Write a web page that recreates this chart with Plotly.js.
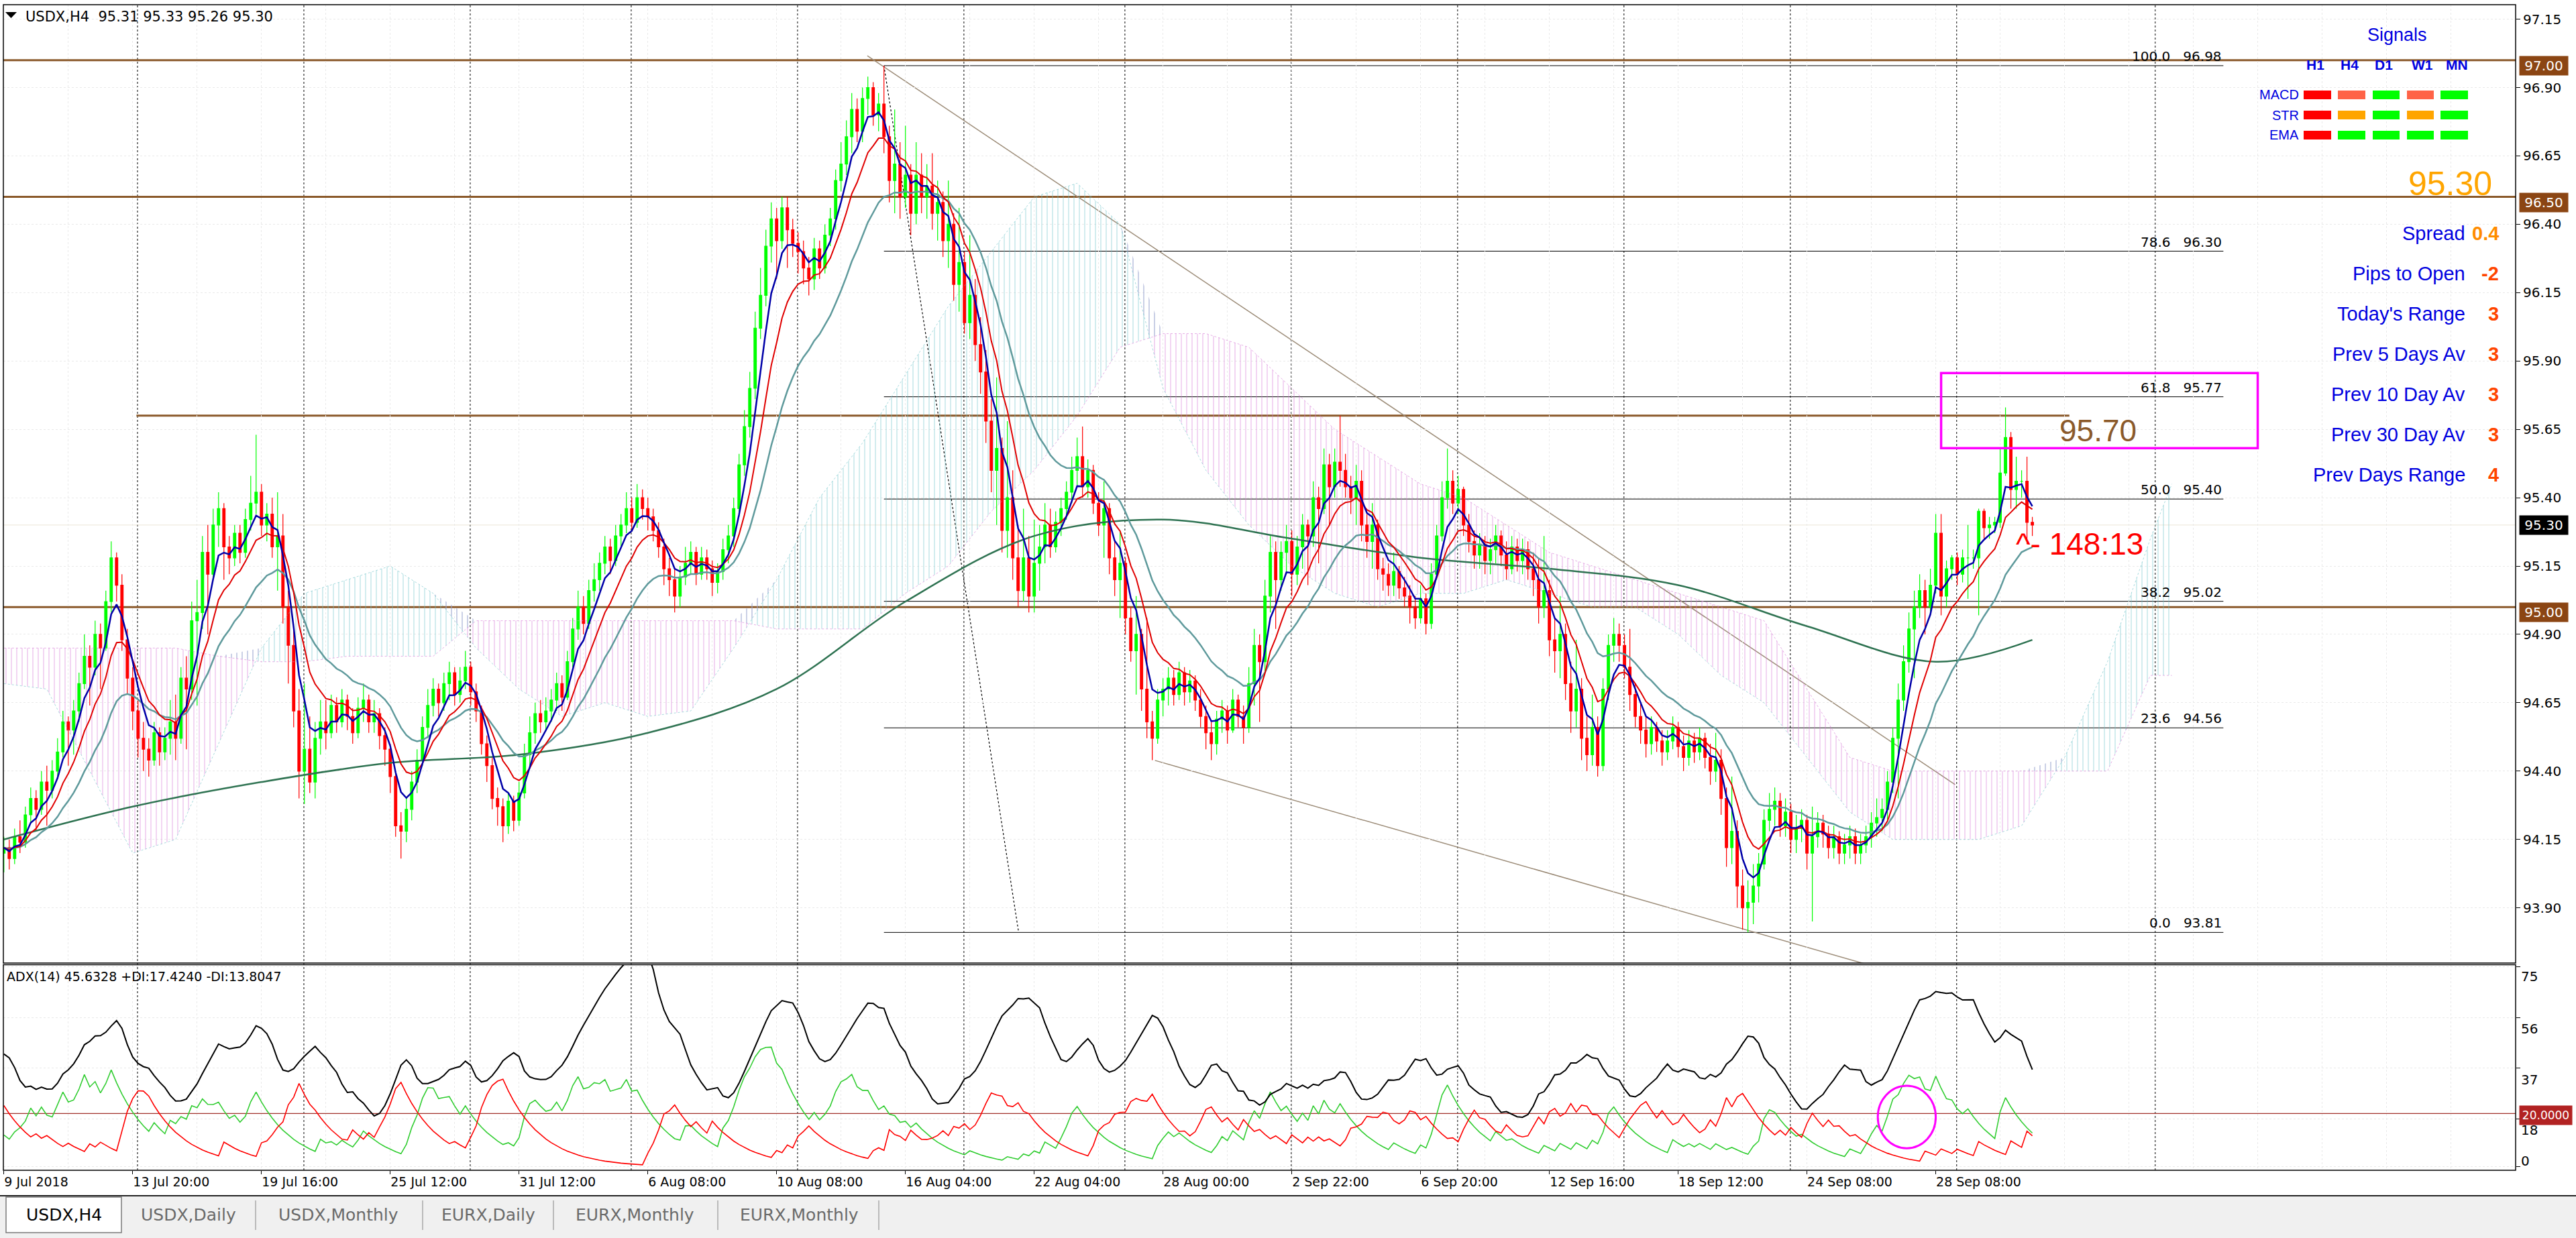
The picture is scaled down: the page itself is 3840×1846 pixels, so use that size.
<!DOCTYPE html>
<html><head><meta charset="utf-8">
<script src="https://cdn.plot.ly/plotly-3.0.1.min.js"></script>
<style>html,body{margin:0;padding:0;background:#fff;}#chart{width:3840px;height:1846px;}</style>
</head><body><div id="chart"></div>
<script>
// ---------------- DATA ----------------
const firstOpen = 94.10;
const closes = [
94.12,94.08,94.16,94.14,94.24,94.30,94.26,94.36,94.33,94.40,94.47,94.58,94.55,94.62,94.72,94.82,94.78,94.90,94.85,95.02,95.18,95.08,94.88,94.74,94.62,
94.52,94.48,94.44,94.54,94.47,94.52,
94.58,94.52,94.74,94.70,94.95,94.98,95.20,
95.12,95.30,95.36,95.22,95.18,95.27,95.20,
95.32,95.38,95.42,95.30,95.34,95.22,
95.26,95.00,94.86,94.62,94.40,94.48,
94.36,94.52,94.58,94.54,
94.64,94.58,94.66,94.60,94.54,94.63,94.66,94.58,94.61,94.53,94.48,94.38,
94.20,94.18,94.26,94.36,94.44,
94.56,94.64,94.70,94.65,94.72,94.76,94.68,94.73,94.78,94.69,94.62,
94.50,94.42,94.30,94.27,94.20,94.29,94.22,94.32,
94.46,94.54,94.61,94.58,94.62,94.66,94.72,94.67,94.80,
94.92,95.00,94.94,95.06,95.10,95.16,
95.22,95.17,95.26,95.30,95.36,95.31,95.40,95.36,95.33,95.28,
95.22,95.14,95.10,95.04,95.11,95.16,95.20,95.12,95.18,95.14,95.09,95.13,95.21,95.26,
95.36,95.52,95.66,95.80,96.02,96.14,96.32,
96.42,96.34,96.46,96.38,96.33,96.30,96.24,96.20,
96.31,96.24,96.36,96.42,96.56,96.62,96.72,
96.82,96.74,96.86,96.90,96.80,96.84,96.72,
96.56,96.62,96.50,96.58,96.44,96.58,96.50,96.54,96.44,96.48,96.34,96.40,
96.18,96.26,96.04,96.14,95.96,95.86,95.68,
95.50,95.58,95.28,95.40,95.18,95.06,95.18,
95.04,95.16,95.22,95.30,95.22,95.31,95.36,
95.42,95.50,95.55,95.44,95.50,95.38,
95.30,95.36,95.18,95.10,95.16,94.96,94.84,94.90,94.70,
94.58,94.52,94.66,94.70,94.74,94.68,94.76,94.69,94.73,94.66,
94.60,94.54,94.50,94.59,94.62,94.55,94.66,94.60,94.56,94.72,
94.86,94.80,95.04,95.20,95.10,95.20,95.24,95.12,95.22,
95.30,95.26,95.40,95.36,95.52,95.44,95.53,95.50,95.44,
95.40,95.46,95.30,95.24,95.30,95.14,95.12,95.08,
95.13,95.07,95.04,95.00,94.96,95.03,94.94,95.12,
95.26,95.40,95.46,95.38,95.43,95.30,95.24,95.19,
95.23,95.17,95.21,95.26,95.19,95.14,95.22,95.17,95.21,95.14,95.10,
95.00,95.06,94.88,94.84,94.90,94.72,94.62,94.70,94.52,94.46,94.56,94.42,
94.70,94.86,94.90,94.86,94.78,94.68,94.60,94.55,
94.50,94.56,94.51,94.47,94.51,94.56,94.49,94.45,94.51,94.47,94.52,94.45,94.40,94.44,94.30,
94.12,94.18,93.98,93.90,93.92,93.98,94.06,
94.22,94.26,94.29,94.20,94.25,94.15,94.19,94.22,94.10,94.16,
94.21,94.17,94.12,94.16,94.10,94.13,94.16,94.10,94.13,94.16,94.21,94.23,94.26,
94.36,94.52,94.66,94.80,94.92,95.00,95.06,95.00,95.08,
95.27,95.04,95.14,95.18,95.12,95.18,95.18,95.18,95.35,95.29,95.30,95.31,95.49,95.62,95.43,95.46,95.46,95.31,95.30
];
const highs = [
94.16,94.15,94.19,94.22,94.27,94.34,94.33,94.40,94.42,94.44,94.52,94.62,94.60,94.66,94.76,94.90,94.86,94.95,94.94,95.06,95.24,95.20,95.12,94.92,94.78,
94.66,94.58,94.52,94.58,94.56,94.56,
94.66,94.68,94.78,94.82,95.02,95.10,95.26,
95.30,95.36,95.42,95.38,95.26,95.30,95.30,
95.36,95.48,95.63,95.45,95.38,95.40,
95.42,95.34,95.06,94.92,94.70,94.72,
94.60,94.58,94.66,94.66,
94.68,94.67,94.70,94.68,94.63,94.67,94.72,94.68,94.66,94.63,94.56,94.50,
94.40,94.25,94.30,94.40,94.48,
94.60,94.70,94.74,94.72,94.76,94.80,94.78,94.78,94.84,94.80,94.72,
94.64,94.53,94.45,94.34,94.30,94.32,94.31,94.36,
94.50,94.60,94.65,94.66,94.67,94.70,94.76,94.75,94.84,
94.96,95.06,95.04,95.10,95.16,95.20,
95.26,95.25,95.30,95.34,95.42,95.40,95.45,95.43,95.40,95.36,
95.31,95.25,95.18,95.14,95.15,95.22,95.24,95.22,95.22,95.21,95.17,95.16,95.25,95.30,
95.40,95.56,95.72,95.86,96.08,96.24,96.38,
96.48,96.46,96.50,96.50,96.42,96.37,96.34,96.28,
96.35,96.34,96.40,96.46,96.60,96.70,96.78,
96.88,96.86,96.90,96.94,96.92,96.88,96.98,
96.76,96.82,96.70,96.76,96.62,96.70,96.66,96.62,96.66,96.56,96.52,96.56,
96.44,96.46,96.30,96.36,96.20,96.06,95.94,
95.76,95.84,95.62,95.68,95.50,95.30,95.36,
95.26,95.32,95.30,95.38,95.36,95.35,95.40,
95.46,95.55,95.62,95.66,95.54,95.52,
95.42,95.46,95.38,95.24,95.28,95.18,95.00,95.04,94.92,
94.96,94.62,94.70,94.74,94.78,94.77,94.80,94.78,94.77,94.75,
94.70,94.64,94.58,94.62,94.66,94.64,94.70,94.68,94.64,94.78,
94.92,94.90,95.10,95.26,95.24,95.24,95.30,95.28,95.26,
95.34,95.32,95.46,95.44,95.58,95.56,95.58,95.70,95.56,
95.48,95.52,95.50,95.34,95.38,95.32,95.18,95.16,
95.20,95.15,95.11,95.08,95.04,95.08,95.05,95.16,
95.30,95.46,95.58,95.50,95.48,95.44,95.34,95.28,
95.27,95.26,95.25,95.30,95.28,95.24,95.26,95.25,95.25,95.24,95.20,
95.18,95.26,95.10,94.96,95.04,94.94,94.80,94.88,94.74,94.60,94.68,94.60,
94.74,94.90,94.96,94.94,94.90,94.92,94.72,94.65,
94.60,94.60,94.58,94.55,94.55,94.60,94.58,94.53,94.55,94.54,94.56,94.54,94.50,94.54,94.48,
94.34,94.38,94.22,94.04,94.00,94.06,94.10,
94.26,94.32,94.34,94.32,94.30,94.28,94.24,94.26,94.24,94.27,
94.25,94.24,94.20,94.20,94.18,94.17,94.20,94.19,94.17,94.20,94.25,94.30,94.30,
94.40,94.56,94.72,94.86,94.98,95.06,95.12,95.10,95.14,
95.34,95.34,95.17,95.19,95.20,95.21,95.30,95.21,95.36,95.36,95.33,95.33,95.58,95.73,95.64,95.55,95.50,95.55,95.33
];
const lows = [
94.03,94.04,94.06,94.10,94.12,94.21,94.18,94.24,94.20,94.30,94.37,94.45,94.42,94.46,94.58,94.70,94.64,94.75,94.70,94.84,94.98,95.02,94.84,94.68,94.55,
94.45,94.40,94.38,94.42,94.42,94.44,
94.46,94.44,94.50,94.48,94.66,94.64,94.92,
94.90,95.10,95.22,95.10,95.12,95.15,95.16,
95.18,95.28,95.34,95.26,95.24,95.18,
95.06,94.94,94.72,94.56,94.30,94.28,
94.32,94.30,94.46,94.48,
94.52,94.54,94.56,94.55,94.50,94.52,94.58,94.54,94.54,94.48,94.42,94.32,
94.16,94.08,94.14,94.22,94.32,
94.42,94.52,94.60,94.60,94.62,94.66,94.64,94.65,94.70,94.64,94.58,
94.46,94.36,94.26,94.20,94.14,94.17,94.18,94.20,
94.30,94.42,94.50,94.54,94.55,94.58,94.62,94.62,94.66,
94.78,94.88,94.90,94.92,95.02,95.06,
95.12,95.12,95.15,95.22,95.27,95.28,95.29,95.32,95.28,95.24,
95.18,95.08,95.04,94.98,95.00,95.08,95.12,95.08,95.10,95.10,95.04,95.05,95.10,95.16,
95.22,95.33,95.48,95.62,95.76,95.98,96.10,
96.26,96.20,96.31,96.24,96.28,96.22,96.18,96.14,
96.16,96.20,96.22,96.32,96.38,96.52,96.58,
96.66,96.70,96.70,96.80,96.76,96.74,96.66,
96.48,96.44,96.42,96.46,96.36,96.40,96.44,96.42,96.38,96.34,96.28,96.24,
96.12,96.08,96.00,95.98,95.90,95.78,95.60,
95.42,95.30,95.20,95.18,95.10,95.00,95.02,
94.98,94.98,95.06,95.16,95.18,95.20,95.26,
95.32,95.38,95.44,95.40,95.40,95.34,
95.26,95.18,95.12,95.04,94.96,94.90,94.80,94.68,94.62,
94.52,94.44,94.50,94.60,94.64,94.64,94.66,94.64,94.65,94.62,
94.56,94.48,94.44,94.46,94.54,94.50,94.54,94.56,94.50,94.54,
94.64,94.58,94.76,94.98,94.92,95.06,95.12,95.04,95.08,
95.14,95.08,95.22,95.16,95.34,95.30,95.40,95.44,95.40,
95.34,95.30,95.24,95.18,95.14,95.10,95.06,95.04,
95.04,95.03,95.00,94.94,94.92,94.94,94.90,94.92,
95.10,95.24,95.36,95.34,95.34,95.26,95.20,95.14,
95.14,95.12,95.12,95.16,95.15,95.10,95.12,95.13,95.12,95.10,95.04,
94.94,94.96,94.82,94.76,94.74,94.66,94.54,94.56,94.44,94.40,94.42,94.38,
94.40,94.66,94.80,94.80,94.74,94.62,94.56,94.50,
94.45,94.46,94.47,94.42,94.44,94.48,94.45,94.40,94.42,94.43,94.44,94.41,94.35,94.36,94.24,
94.05,94.06,93.90,93.82,93.81,93.84,93.92,
94.04,94.18,94.20,94.16,94.16,94.10,94.10,94.14,94.04,93.85,
94.12,94.12,94.08,94.08,94.06,94.06,94.08,94.06,94.06,94.10,94.12,94.16,94.18,
94.22,94.32,94.30,94.62,94.76,94.74,94.96,94.90,94.98,
95.05,94.97,95.00,95.10,95.08,95.09,95.03,95.14,94.97,95.25,95.25,95.27,95.29,95.48,95.36,95.36,95.40,95.23,95.26
];

const xTickBars = [0,24,48,72,96,120,144,168,192,216,240,264,288,312,336,360];
const xTickLabels = ['9 Jul 2018','13 Jul 20:00','19 Jul 16:00','25 Jul 12:00','31 Jul 12:00','6 Aug 08:00','10 Aug 08:00',
 '16 Aug 04:00','22 Aug 04:00','28 Aug 00:00','2 Sep 22:00','6 Sep 20:00','12 Sep 16:00','18 Sep 12:00','24 Sep 08:00','28 Sep 08:00'];
const priceTicks = [93.90,94.15,94.40,94.65,94.90,95.15,95.40,95.65,95.90,96.15,96.40,96.65,96.90,97.15];
const weekSeparators = [25,56,87,117,148,179,209,240,271,302,333,364,401];

// Ichimoku cloud (read every 8 bars, shifted 26 ahead)
const cloudBars = [0,8,16,24,32,40,48,56,64,72,80,88,96,104,112,120,128,136,144,152,160,168,176,184,192,200,208,216,224,232,240,248,256,264,272,280,288,296,304,312,320,328,336,344,352,360,368,376,384,392,400,404];
const spanA = [94.72,94.70,94.40,94.10,94.15,94.50,94.85,95.05,95.10,95.15,95.05,94.85,94.70,94.60,94.65,94.60,94.62,94.85,95.10,95.40,95.60,95.85,96.10,96.30,96.50,96.55,96.40,95.80,95.50,95.30,95.15,95.05,95.00,95.05,95.05,95.10,95.05,95.00,95.00,94.90,94.75,94.65,94.45,94.25,94.15,94.15,94.15,94.20,94.45,94.80,95.25,95.45];
const spanB = [94.85,94.85,94.85,94.85,94.85,94.82,94.80,94.80,94.82,94.82,94.82,94.95,94.95,94.95,94.95,94.95,94.95,94.95,94.92,94.92,94.92,95.05,95.15,95.35,95.50,95.70,95.95,96.00,96.00,95.95,95.80,95.65,95.55,95.45,95.40,95.30,95.20,95.15,95.10,95.05,95.00,94.95,94.70,94.45,94.40,94.40,94.40,94.40,94.40,94.40,94.75,94.75];

// slow moving average (dark green), read every 24 bars
const slowMABars = [0,24,48,72,96,120,144,168,192,216,240,264,288,312,336,360,378];
const slowMA = [94.15,94.27,94.36,94.43,94.46,94.54,94.70,95.02,95.26,95.32,95.25,95.18,95.14,95.08,94.93,94.80,94.88];

const levelPrices = [97.00,96.50,95.00];
const level9570 = 95.70;
const fibHigh = 96.98, fibLow = 93.81;
const fibRatios = [0,0.236,0.382,0.5,0.618,0.786,1.0];
const fibLabels = ['0.0   93.81','23.6   94.56','38.2   95.02','50.0   95.40','61.8   95.77','78.6   96.30','100.0   96.98'];

const sigCols = ['H1','H4','D1','W1','MN'];
const sigRows = ['MACD','STR','EMA'];
const sigColors = [
 ['#ff0000','#ff6347','#00ff00','#ff6347','#00ff00'],
 ['#ff0000','#ffa500','#00ff00','#ffa500','#00ff00'],
 ['#ff0000','#00ff00','#00ff00','#00ff00','#00ff00']];
const infoLabels = ['Spread','Pips to Open',"Today's Range",'Prev 5 Days Av','Prev 10 Day Av','Prev 30 Day Av','Prev Days Range'];
const infoValues = ['0.4','-2','3','3','3','3','4'];
const tabs = ['USDX,H4','USDX,Daily','USDX,Monthly','EURX,Daily','EURX,Monthly','EURX,Monthly'];
const adxSeed = {adx:44, pdi:12, mdi:23};

// ---------------- BUILD ----------------
const N = closes.length;
const bars = closes.map((_,i)=>i);
const opens = closes.map((c,i)=> i===0 ? firstOpen : closes[i-1]);
const hi = highs.map((h,i)=>Math.max(h,opens[i],closes[i]));
const lo = lows.map((l,i)=>Math.min(l,opens[i],closes[i]));

function ema(arr,n){const a=2/(n+1);const out=[];let v=arr[0];for(let i=0;i<arr.length;i++){v=i?a*arr[i]+(1-a)*v:arr[0];out.push(v);}return out;}
function emaSeed(arr,n,seed){const a=2/(n+1);const out=[];let v=seed;for(let i=0;i<arr.length;i++){v=a*arr[i]+(1-a)*v;out.push(v);}return out;}
const ema5 = ema(closes,5), ema10 = ema(closes,10), ema21 = ema(closes,21);

// ADX (MT4 method)
const pS=[adxSeed.pdi], mS=[adxSeed.mdi];
for(let i=1;i<N;i++){
  let pdm=hi[i]-hi[i-1], mdm=lo[i-1]-lo[i];
  if(pdm<0)pdm=0; if(mdm<0)mdm=0;
  if(pdm===mdm){pdm=0;mdm=0;} else if(pdm<mdm)pdm=0; else mdm=0;
  const tr=Math.max(hi[i]-lo[i],Math.abs(hi[i]-closes[i-1]),Math.abs(lo[i]-closes[i-1]));
  pS.push(tr?100*pdm/tr:0); mS.push(tr?100*mdm/tr:0);
}
const pDI=emaSeed(pS,14,adxSeed.pdi), mDI=emaSeed(mS,14,adxSeed.mdi);
const dx=pDI.map((p,i)=>{const s=p+mDI[i];return s?100*Math.abs(p-mDI[i])/s:0;});
const adx=emaSeed(dx,14,adxSeed.adx);

const cloudTop = spanA.map((a,i)=>Math.max(a,spanB[i]));

const traces = [];
const PINK='rgba(214,120,214,0.6)', CYAN='rgba(110,195,200,0.6)';
traces.push({x:cloudBars,y:spanA,type:'scatter',mode:'lines',line:{width:0},hoverinfo:'skip'});
traces.push({x:cloudBars,y:cloudTop,type:'scatter',mode:'lines',line:{width:0},fill:'tonexty',fillcolor:'rgba(0,0,0,0)',
  fillpattern:{shape:'|',fgcolor:PINK,bgcolor:'rgba(255,255,255,0)',size:8,solidity:0.13},hoverinfo:'skip'});
traces.push({x:cloudBars,y:spanB,type:'scatter',mode:'lines',line:{width:0},hoverinfo:'skip'});
traces.push({x:cloudBars,y:cloudTop,type:'scatter',mode:'lines',line:{width:0},fill:'tonexty',fillcolor:'rgba(0,0,0,0)',
  fillpattern:{shape:'|',fgcolor:CYAN,bgcolor:'rgba(255,255,255,0)',size:8,solidity:0.13},hoverinfo:'skip'});
traces.push({x:cloudBars,y:spanA,type:'scatter',mode:'lines',line:{width:1,color:'rgba(110,195,200,0.6)',dash:'dot'},hoverinfo:'skip'});
traces.push({x:cloudBars,y:spanB,type:'scatter',mode:'lines',line:{width:1,color:'rgba(214,120,214,0.6)',dash:'dot'},hoverinfo:'skip'});

traces.push({type:'candlestick',x:bars,open:opens,high:hi,low:lo,close:closes,xaxis:'x',yaxis:'y',
  increasing:{line:{color:'#00ff00',width:1.2},fillcolor:'#00ff00'},
  decreasing:{line:{color:'#ff0000',width:1.2},fillcolor:'#ff0000'},hoverinfo:'skip',whiskerwidth:0});

traces.push({x:slowMABars,y:slowMA,type:'scatter',mode:'lines',line:{color:'#2f7352',width:2.5,shape:'spline'},hoverinfo:'skip'});
traces.push({x:bars,y:ema21,type:'scatter',mode:'lines',line:{color:'#5f9a9c',width:2.5},hoverinfo:'skip'});
traces.push({x:bars,y:ema10,type:'scatter',mode:'lines',line:{color:'#e00000',width:2},hoverinfo:'skip'});
traces.push({x:bars,y:ema5,type:'scatter',mode:'lines',line:{color:'#0000a8',width:2.5},hoverinfo:'skip'});

traces.push({x:bars,y:pDI,type:'scatter',mode:'lines',yaxis:'y2',line:{color:'#32cd32',width:1.6},hoverinfo:'skip'});
traces.push({x:bars,y:mDI,type:'scatter',mode:'lines',yaxis:'y2',line:{color:'#ff0000',width:1.6},hoverinfo:'skip'});
traces.push({x:bars,y:adx,type:'scatter',mode:'lines',yaxis:'y2',line:{color:'#000000',width:2},hoverinfo:'skip'});

const LPX=5,RPX=3750,TPX=7,BPX=1745;
const px=x=>(x-LPX)/(RPX-LPX);
const py=y=>(BPX-y)/(BPX-TPX);
const BROWN='#8b5a2b';

const shapes=[];
const annotations=[];
weekSeparators.forEach(b=>shapes.push({type:'line',xref:'x',yref:'paper',x0:b-0.1,x1:b-0.1,y0:0,y1:1,line:{color:'#000',width:1,dash:'3px,3px'},layer:'below'}));
shapes.push({type:'line',xref:'paper',yref:'y',x0:0,x1:1,y0:95.30,y1:95.30,line:{color:'#ece6d6',width:1},layer:'below'});
levelPrices.forEach(p=>shapes.push({type:'line',xref:'paper',yref:'y',x0:0,x1:1,y0:p,y1:p,line:{color:BROWN,width:3},layer:'below'}));
shapes.push({type:'line',xref:'x',yref:'y',x0:24.7,x1:384.9,y0:level9570,y1:level9570,line:{color:BROWN,width:3},layer:'below'});
fibRatios.forEach((r,i)=>{const v=fibLow+r*(fibHigh-fibLow);
  shapes.push({type:'line',xref:'x',yref:'y',x0:164,x1:413.6,y0:v,y1:v,line:{color:'#000',width:1},layer:'below'});
  annotations.push({xref:'x',yref:'y',x:413.6,y:v,xanchor:'right',yanchor:'bottom',yshift:0,text:fibLabels[i].replace(/ /g,'\u00a0'),showarrow:false,font:{size:20,color:'#000'}});
});
shapes.push({type:'line',xref:'x',yref:'y',x0:164,x1:189.1,y0:fibHigh,y1:fibLow,line:{color:'#000',width:1.2,dash:'dot'},layer:'below'});
shapes.push({type:'line',xref:'x',yref:'y',x0:160.9,x1:363.6,y0:97.016,y1:94.351,line:{color:'#9c8c78',width:1.5},layer:'below'});
shapes.push({type:'line',xref:'x',yref:'y',x0:214.5,x1:346.8,y0:94.439,y1:93.695,line:{color:'#9c8c78',width:1.5},layer:'below'});
shapes.push({type:'rect',xref:'x',yref:'y',x0:361,x1:420,y0:95.581,y1:95.856,line:{color:'#ff00ff',width:3.5},fillcolor:'rgba(0,0,0,0)'});
shapes.push({type:'line',xref:'paper',yref:'y2',x0:0,x1:1,y0:20,y1:20,line:{color:'#a0302a',width:1.2},layer:'below'});
shapes.push({type:'circle',xref:'x',yref:'y2',x0:349.2,x1:360,y0:7,y1:30.4,line:{color:'#ff00ff',width:3}});
shapes.push({type:'rect',xref:'paper',yref:'paper',x0:0,x1:1,y0:py(1436),y1:1,line:{color:'#000',width:1.5}});
shapes.push({type:'rect',xref:'paper',yref:'paper',x0:0,x1:1,y0:0,y1:py(1438.5),line:{color:'#000',width:1.5}});
shapes.push({type:'path',xref:'paper',yref:'paper',path:`M ${px(8)} ${py(18)} L ${px(25)} ${py(18)} L ${px(16.5)} ${py(27)} Z`,fillcolor:'#000',line:{width:0}});
const boxX=[[3434,3475],[3485,3526],[3537,3577],[3588,3628],[3638,3679]];
const rowY=[141.5,171.5,201.5];
sigColors.forEach((row,r)=>row.forEach((c,k)=>shapes.push({type:'rect',xref:'paper',yref:'paper',x0:px(boxX[k][0]),x1:px(boxX[k][1]),y0:py(rowY[r]+6.5),y1:py(rowY[r]-6.5),fillcolor:c,line:{width:0}})));
shapes.push({type:'rect',xref:'paper',yref:'paper',x0:px(0),x1:px(3840),y0:py(1846),y1:py(1783),fillcolor:'#f0f0f0',line:{width:0}});
shapes.push({type:'line',xref:'paper',yref:'paper',x0:px(0),x1:px(3840),y0:py(1783),y1:py(1783),line:{color:'#222',width:2}});
shapes.push({type:'rect',xref:'paper',yref:'paper',x0:px(9),x1:px(181),y0:py(1838),y1:py(1785),fillcolor:'#ffffff',line:{color:'#7a7a7a',width:1.5}});
[381,630,825,1070,1310].forEach(x=>shapes.push({type:'line',xref:'paper',yref:'paper',x0:px(x),x1:px(x),y0:py(1834),y1:py(1790),line:{color:'#a8a8a8',width:1.5}}));

const A=(o)=>annotations.push(Object.assign({showarrow:false},o));
A({xref:'paper',yref:'paper',x:px(36),y:py(25),xanchor:'left',yanchor:'middle',text:'USDX,H4\u00a0\u00a095.31 95.33 95.26 95.30',font:{size:21,color:'#000'}});
A({xref:'paper',yref:'paper',x:px(8),y:py(1456),xanchor:'left',yanchor:'middle',text:'ADX(14) 45.6328 +DI:17.4240 -DI:13.8047',font:{size:19,color:'#000'}});
A({xref:'paper',yref:'paper',x:px(3573),y:py(52),xanchor:'center',yanchor:'middle',text:'Signals',font:{family:'Liberation Sans',size:27,color:'#0000e0'}});
const colX=[3451,3502,3553,3611,3662];
sigCols.forEach((t,k)=>A({xref:'paper',yref:'paper',x:px(colX[k]),y:py(97),xanchor:'center',yanchor:'middle',text:'<b>'+t+'</b>',font:{family:'Liberation Sans',size:21,color:'#0000e0'}}));
sigRows.forEach((t,r)=>A({xref:'paper',yref:'paper',x:px(3429),y:py(rowY[r]),xanchor:'right',yanchor:'middle',text:t,font:{family:'Liberation Sans',size:20,color:'#0000e0'}}));
A({xref:'paper',yref:'paper',x:px(3717),y:py(274),xanchor:'right',yanchor:'middle',text:'95.30',font:{family:'Liberation Sans',size:50,color:'#ffa500'}});
infoLabels.forEach((t,i)=>{const y=348+60*i;
  A({xref:'paper',yref:'paper',x:px(3677),y:py(y),xanchor:'right',yanchor:'middle',text:t,font:{family:'Liberation Sans',size:29,color:'#0000e0'}});
  A({xref:'paper',yref:'paper',x:px(3727),y:py(y),xanchor:'right',yanchor:'middle',text:'<b>'+infoValues[i]+'</b>',font:{family:'Liberation Sans',size:29,color:i===0?'#ff8c00':'#ff4500'}});
});
A({xref:'x',yref:'y',x:382.8,y:95.645,xanchor:'left',yanchor:'middle',text:'95.70',font:{family:'Liberation Sans',size:46,color:BROWN}});
A({xref:'x',yref:'y',x:374.7,y:95.23,xanchor:'left',yanchor:'middle',text:'^- 148:13',font:{family:'Liberation Sans',size:46,color:'#ff0000'}});
const boxAnn=(yref,y,text,bg,ys,w,fs)=>A({xref:'paper',yref:yref,x:px(3755),y:y,xanchor:'left',yanchor:'middle',yshift:ys,text:text,bgcolor:bg,width:w||70,height:26,font:{size:fs||20,color:'#fff'}});
[[75,-14],[56,-17],[37,-17],[18,-17],[0,9]].forEach(([v,s])=>A({xref:'paper',yref:'y2',x:px(3756),y:v,xanchor:'left',yanchor:'middle',yshift:s,text:String(v),font:{size:20,color:'#000'}}));
boxAnn('y',97.00,'97.00','#8b4513',-8);
boxAnn('y',96.50,'96.50','#8b4513',-8);
boxAnn('y',95.00,'95.00','#8b4513',-8);
boxAnn('y',95.30,'95.30','#000000',0);
boxAnn('y2',20,'20.0000','#b22222',-3,76,17);
const tabX=[95,281,505,728,946,1191];
tabs.forEach((t,i)=>A({xref:'paper',yref:'paper',x:px(tabX[i]),y:py(1811),xanchor:'center',yanchor:'middle',text:t,font:{size:25,color:i===0?'#000':'#6a6a6a'}}));

const layout={
  width:3840,height:1846,margin:{l:5,r:90,t:7,b:101,pad:0},
  paper_bgcolor:'#ffffff',plot_bgcolor:'#ffffff',showlegend:false,
  font:{family:'DejaVu Sans',color:'#000'},
  boxgap:0.35,
  xaxis:{range:[-0.1,468.06],tickmode:'array',tickvals:xTickBars,ticktext:xTickLabels,ticks:'outside',ticklen:5,tickcolor:'#000',
    ticklabelposition:'outside right',tickfont:{size:19},showgrid:false,zeroline:false,showline:false,anchor:'y2',
    rangeslider:{visible:false},
    minor:{tickmode:'linear',tick0:0,dtick:12,showgrid:true,gridcolor:'#e9e9e9',griddash:'dot',gridwidth:1,ticks:''}},
  yaxis:{domain:[py(1436),1],range:[93.698,97.203],side:'right',tickmode:'array',tickvals:priceTicks,ticktext:priceTicks.map(v=>v.toFixed(2)),
    ticks:'outside',ticklen:6,tickcolor:'#000',tickfont:{size:20},showgrid:true,gridcolor:'#e9e9e9',griddash:'dot',zeroline:false,showline:false,anchor:'x'},
  yaxis2:{domain:[0,py(1438.5)],range:[-1.26,75.8],side:'right',tickmode:'array',tickvals:[0,18,37,56,75],ticks:'outside',ticklen:6,tickcolor:'#000',
    showticklabels:false,showgrid:true,gridcolor:'#e9e9e9',griddash:'dot',zeroline:false,showline:false,anchor:'x'},
  shapes:shapes,annotations:annotations
};
Plotly.newPlot('chart',traces,layout,{staticPlot:true,displayModeBar:false});
</script></body></html>
